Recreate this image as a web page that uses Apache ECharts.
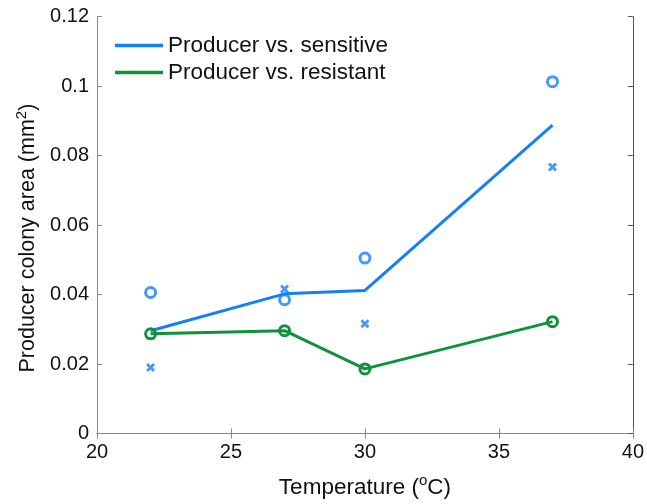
<!DOCTYPE html>
<html>
<head>
<meta charset="utf-8">
<script src="https://cdn.jsdelivr.net/npm/echarts@6/dist/echarts.min.js"></script>
<style>
html,body{margin:0;padding:0;background:#fff;}
#c{width:647px;height:504px;}
</style>
</head>
<body>
<div id="c"></div>
<script>
// Data
var temperatures = [22, 27, 30, 37];
var sensitiveLine = [0.0296, 0.0402, 0.0412, 0.0888];
var sensitiveCircles = [0.0406, 0.0385, 0.0505, 0.1013];
var sensitiveCrosses = [0.0190, 0.0416, 0.0316, 0.0767];
var resistantLine = [0.0287, 0.0296, 0.0186, 0.0322];
var xTicks = [20, 25, 30, 35, 40];
var yTicks = [0, 0.02, 0.04, 0.06, 0.08, 0.1, 0.12];

var BLUE = '#1580f5';
var GREEN = '#10923a';
var FONT = 'Liberation Sans, Arial, sans-serif';

function pairs(ys){ return temperatures.map(function(t,i){ return [t, ys[i]]; }); }

var crossPath = 'path://M0,2.2L2.2,0L5,2.8L7.8,0L10,2.2L7.2,5L10,7.8L7.8,10L5,7.2L2.2,10L0,7.8L2.8,5Z';

var chart = echarts.init(document.getElementById('c'), null, {renderer:'canvas'});
var axisGray = '#8a8a8a';
chart.setOption({
  animation: false,
  backgroundColor: '#fff',
  grid: {left: 97, right: 13.5, top: 16.7, bottom: 70.3, containLabel: false},
  legend: {
    orient: 'vertical', left: 110, top: 29,
    itemWidth: 48, itemHeight: 3.5, itemGap: 4,
    textStyle: {fontFamily: FONT, fontSize: 22.5, color: '#111'},
    data: [
      {name: 'Producer vs. sensitive', icon: 'rect', itemStyle: {color: BLUE, borderWidth: 0}},
      {name: 'Producer vs. resistant', icon: 'rect', itemStyle: {color: GREEN, borderWidth: 0}}
    ]
  },
  xAxis: [{
    type: 'value', min: xTicks[0], max: xTicks[xTicks.length-1], interval: 5,
    name: 'Temperature ({s|o}C)', nameLocation: 'middle', nameGap: 40,
    nameTextStyle: {fontFamily: FONT, fontSize: 22.5, color: '#111',
      rich: {s: {fontFamily: FONT, fontSize: 15, color: '#111', verticalAlign: 'top', padding: [0,0,13,0]}}},
    axisLine: {show: true, onZero: false, lineStyle: {color: axisGray, width: 1}},
    axisTick: {show: true, inside: true, length: 5, lineStyle: {color: axisGray}},
    axisLabel: {fontFamily: FONT, fontSize: 20, color: '#111', margin: 9},
    splitLine: {show: false}
  },{
    type: 'value', position: 'top', min: 20, max: 40, interval: 5,
    axisLine: {show: true, lineStyle: {color: axisGray, width: 1}},
    axisTick: {show: true, inside: true, length: 5, lineStyle: {color: axisGray}},
    axisLabel: {show: false}, splitLine: {show: false}
  }],
  yAxis: [{
    type: 'value', min: yTicks[0], max: yTicks[yTicks.length-1], interval: 0.02,
    name: 'Producer colony area (mm{s|2})', nameLocation: 'middle', nameGap: 51,
    nameTextStyle: {fontFamily: FONT, fontSize: 21.5, color: '#111', padding: [0, 26, 0, 0],
      rich: {s: {fontFamily: FONT, fontSize: 15, color: '#111', verticalAlign: 'top', padding: [0,0,13,0]}}},
    axisLine: {show: true, onZero: false, lineStyle: {color: axisGray, width: 1}},
    axisTick: {show: true, inside: true, length: 5, lineStyle: {color: axisGray}},
    axisLabel: {fontFamily: FONT, fontSize: 20, color: '#111', margin: 8,
      formatter: function(v){ return String(+v.toFixed(2)); }},
    splitLine: {show: false}
  },{
    type: 'value', position: 'right', min: 0, max: 0.12, interval: 0.02,
    axisLine: {show: true, lineStyle: {color: '#555', width: 1}},
    axisTick: {show: true, inside: true, length: 5, lineStyle: {color: '#555'}},
    axisLabel: {show: false}, splitLine: {show: false}
  }],
  series: [
    {
      name: 'Producer vs. sensitive', type: 'line', data: pairs(sensitiveLine),
      showSymbol: false, symbol: 'none', color: BLUE,
      lineStyle: {color: BLUE, width: 3}, z: 3
    },
    {
      name: 'Producer vs. resistant', type: 'line', data: pairs(resistantLine),
      symbol: 'circle', symbolSize: 10, color: GREEN,
      lineStyle: {color: GREEN, width: 3},
      itemStyle: {color: 'rgba(255,255,255,0)', borderColor: GREEN, borderWidth: 3}, z: 4
    },
    {
      name: 'sensitive circles', type: 'scatter', data: pairs(sensitiveCircles),
      symbol: 'circle', symbolSize: 10,
      itemStyle: {color: 'rgba(255,255,255,0)', borderColor: BLUE, borderWidth: 3}, z: 5
    },
    {
      name: 'sensitive crosses', type: 'scatter', data: pairs(sensitiveCrosses),
      symbol: crossPath, symbolSize: 9,
      itemStyle: {color: BLUE}, z: 5
    }
  ]
});
</script>
</body>
</html>
